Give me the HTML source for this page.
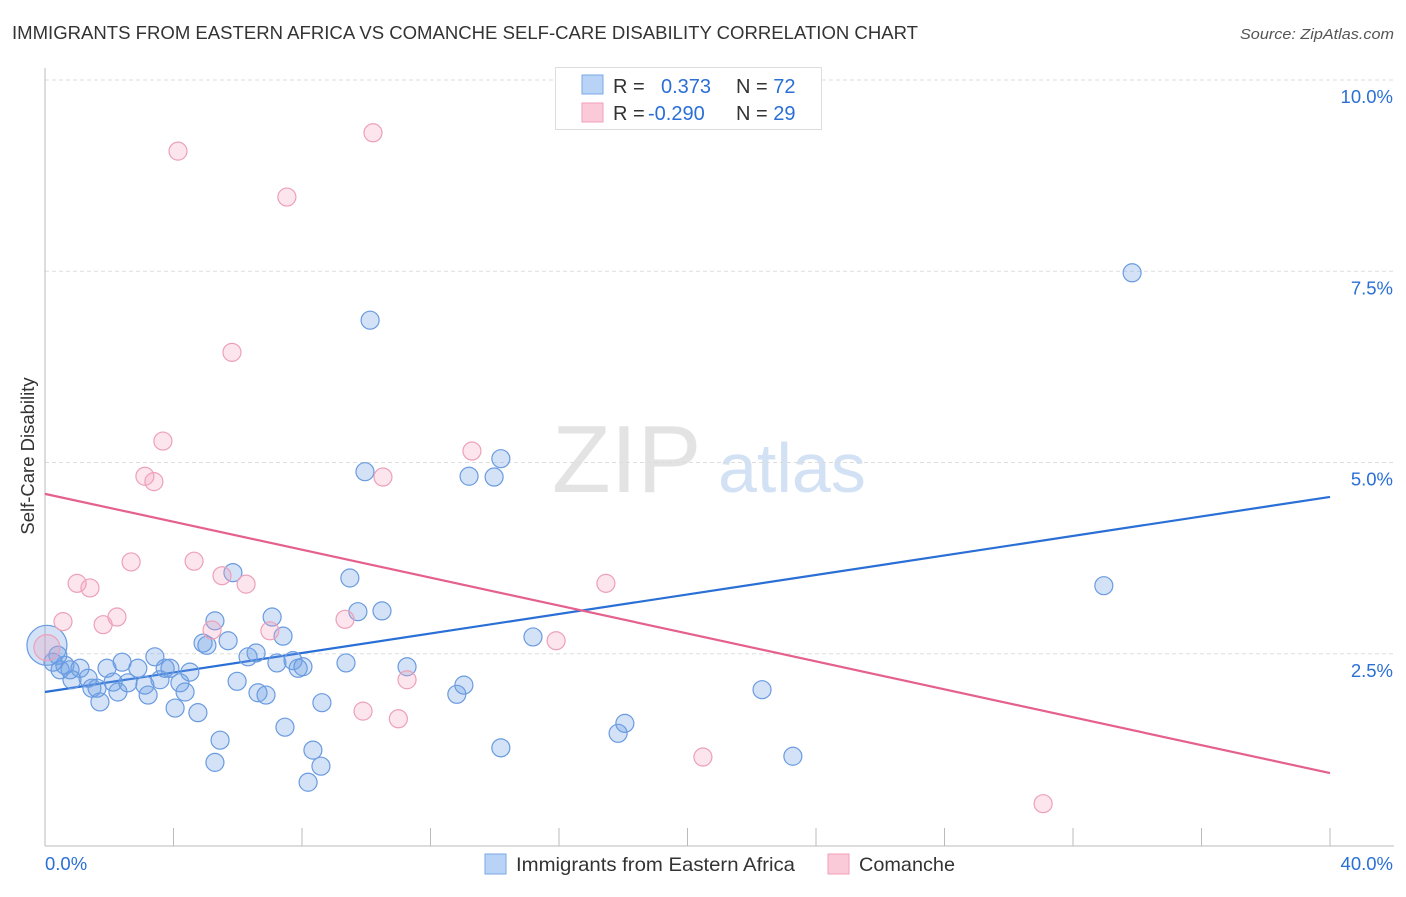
<!DOCTYPE html>
<html><head><meta charset="utf-8"><style>
body{margin:0;background:#fff;font-family:"Liberation Sans",sans-serif;}
svg text{font-family:"Liberation Sans",sans-serif;}
</style></head><body>
<svg width="1406" height="892" xmlns="http://www.w3.org/2000/svg">
<text x="12" y="39" font-size="18" fill="#333" textLength="906" lengthAdjust="spacingAndGlyphs">IMMIGRANTS FROM EASTERN AFRICA VS COMANCHE SELF-CARE DISABILITY CORRELATION CHART</text>
<text x="1240" y="39" font-size="15" fill="#555" font-style="italic" textLength="154" lengthAdjust="spacingAndGlyphs">Source: ZipAtlas.com</text>
<g>
<text x="552" y="492" font-size="96" fill="#e3e3e3" font-family="Liberation Serif,serif">ZIP</text>
<text x="718" y="492" font-size="70" fill="#d3e1f5">atlas</text>
</g>
<g id="grid"></g>
<g id="axes"></g>
<g id="lines"></g>
<g id="points"></g>
<text transform="translate(34,456) rotate(-90)" font-size="18.5" fill="#333" text-anchor="middle">Self-Care Disability</text>
<g>
<rect x="555.5" y="67.5" width="266" height="62" fill="#fff" stroke="#ddd"/>
<rect x="582" y="75" width="21" height="19" fill="#b8d3f5" stroke="#7aa8e8"/>
<rect x="582" y="103" width="21" height="19" fill="#fbcad8" stroke="#f0a0b8"/>
<text x="613" y="93" font-size="20" fill="#333">R = <tspan fill="#2a6fd6" x="661">0.373</tspan><tspan fill="#333" x="736">N = </tspan><tspan fill="#2a6fd6">72</tspan></text>
<text x="613" y="120" font-size="20" fill="#333">R = <tspan fill="#2a6fd6" x="648">-0.290</tspan><tspan fill="#333" x="736">N = </tspan><tspan fill="#2a6fd6">29</tspan></text>
</g>
<g>
<rect x="485" y="854" width="21" height="20" fill="#b8d3f5" stroke="#7aa8e8"/>
<text x="516" y="871" font-size="19.5" fill="#333" textLength="279" lengthAdjust="spacingAndGlyphs">Immigrants from Eastern Africa</text>
<rect x="828" y="854" width="21" height="20" fill="#fbcad8" stroke="#f0a0b8"/>
<text x="859" y="871" font-size="19.5" fill="#333" textLength="96" lengthAdjust="spacingAndGlyphs">Comanche</text>
</g>
</svg>
<script>
const blueX=[0.06,0.47,0.62,0.84,1.09,1.34,1.46,1.62,1.71,1.93,2.12,2.27,2.40,2.58,2.89,3.11,3.21,3.42,3.58,3.74,3.89,4.05,4.20,4.36,4.51,4.76,4.92,5.04,5.29,5.45,5.29,5.70,5.85,5.98,6.32,6.57,6.63,6.88,7.07,7.22,7.41,7.47,7.72,7.88,8.03,8.19,8.34,8.59,8.62,9.37,9.49,9.74,9.96,10.12,10.49,11.27,12.82,13.04,13.20,13.98,14.19,14.19,15.19,17.84,18.05,22.32,23.28,32.96,33.84,0.25,0.78,0.40];
const blueY=[2.61,2.29,2.35,2.16,2.31,2.18,2.05,2.05,1.87,2.31,2.13,2.00,2.39,2.12,2.31,2.09,1.96,2.46,2.16,2.31,2.31,1.79,2.12,2.00,2.26,1.73,2.64,2.61,2.93,1.37,1.08,2.67,3.56,2.14,2.46,2.51,1.99,1.96,2.98,2.38,2.73,1.54,2.41,2.31,2.33,0.82,1.24,1.03,1.86,2.38,3.49,3.05,4.88,6.86,3.06,2.33,1.97,2.09,4.82,4.81,5.05,1.27,2.72,1.46,1.59,2.03,1.16,3.39,7.48,2.39,2.29,2.48];
const pinkX=[0.06,0.56,1.00,1.40,1.81,2.24,2.68,3.11,3.39,3.67,4.14,4.64,5.20,5.51,5.82,6.26,7.00,7.53,9.34,9.90,10.21,10.52,11.00,11.27,13.29,15.91,17.46,20.48,31.07];
const pinkY=[2.58,2.92,3.42,3.36,2.88,2.98,3.70,4.82,4.75,5.28,9.07,3.71,2.81,3.52,6.44,3.41,2.80,8.47,2.95,1.75,9.31,4.81,1.65,2.16,5.15,2.67,3.42,1.15,0.54];
const blueLine=[[0,2.0],[40,4.55]];
const pinkLine=[[0,4.59],[40,0.94]];
const yTicks=[2.5,5.0,7.5,10.0];
const yTickLabels=["2.5%","5.0%","7.5%","10.0%"];
const xTicks=[0,4,8,12,16,20,24,28,32,36,40];
const NS="http://www.w3.org/2000/svg";
const sx=v=>45+v*32.125, sy=v=>845-v*76.5;
function mk(tag,attrs,parent){const e=document.createElementNS(NS,tag);for(const k in attrs)e.setAttribute(k,attrs[k]);document.getElementById(parent).appendChild(e);return e;}
yTicks.forEach((t,i)=>{
 const g=mk('line',{x1:45,x2:1394,y1:sy(t),y2:sy(t),stroke:'#ddd','stroke-dasharray':'4,3'},'grid');
 
 
 const l=mk('text',{x:1393,y:sy(t)+23,'font-size':18.5,fill:'#2a6fd6','text-anchor':'end'},'axes');
 l.textContent=yTickLabels[i];
 
 
});
const ya=mk('line',{x1:45,x2:45,y1:68,y2:846,stroke:'#bbb'},'axes');


const xa=mk('line',{x1:45,x2:1394,y1:846,y2:846,stroke:'#bbb'},'axes');


xTicks.forEach(t=>{
 const k=mk('line',{x1:sx(t),x2:sx(t),y1:828,y2:846,stroke:'#bbb'},'axes');
 
 
});
const x0=mk('text',{x:45,y:870,'font-size':18.5,fill:'#2a6fd6'},'axes');x0.textContent='0.0%';


const x1=mk('text',{x:1393,y:870,'font-size':18.5,fill:'#2a6fd6','text-anchor':'end'},'axes');x1.textContent='40.0%';


blueX.forEach((x,i)=>{
 const c=mk('circle',{cx:sx(x),cy:sy(blueY[i]),r:i===0?20:9,fill:'rgba(110,160,230,0.3)',stroke:'#6a9be0','stroke-width':1.2},'points');
 
 
});
pinkX.forEach((x,i)=>{
 const c=mk('circle',{cx:sx(x),cy:sy(pinkY[i]),r:i===0?13:9,fill:'rgba(245,160,190,0.28)',stroke:'#eda0b9','stroke-width':1.2},'points');
 
 
});
const bl=mk('line',{x1:sx(blueLine[0][0]),y1:sy(blueLine[0][1]),x2:sx(blueLine[1][0]),y2:sy(blueLine[1][1]),stroke:'#2a6fd6','stroke-width':2.2},'lines');


const pl=mk('line',{x1:sx(pinkLine[0][0]),y1:sy(pinkLine[0][1]),x2:sx(pinkLine[1][0]),y2:sy(pinkLine[1][1]),stroke:'#e5608e','stroke-width':2.2},'lines');


</script>
</body></html>
